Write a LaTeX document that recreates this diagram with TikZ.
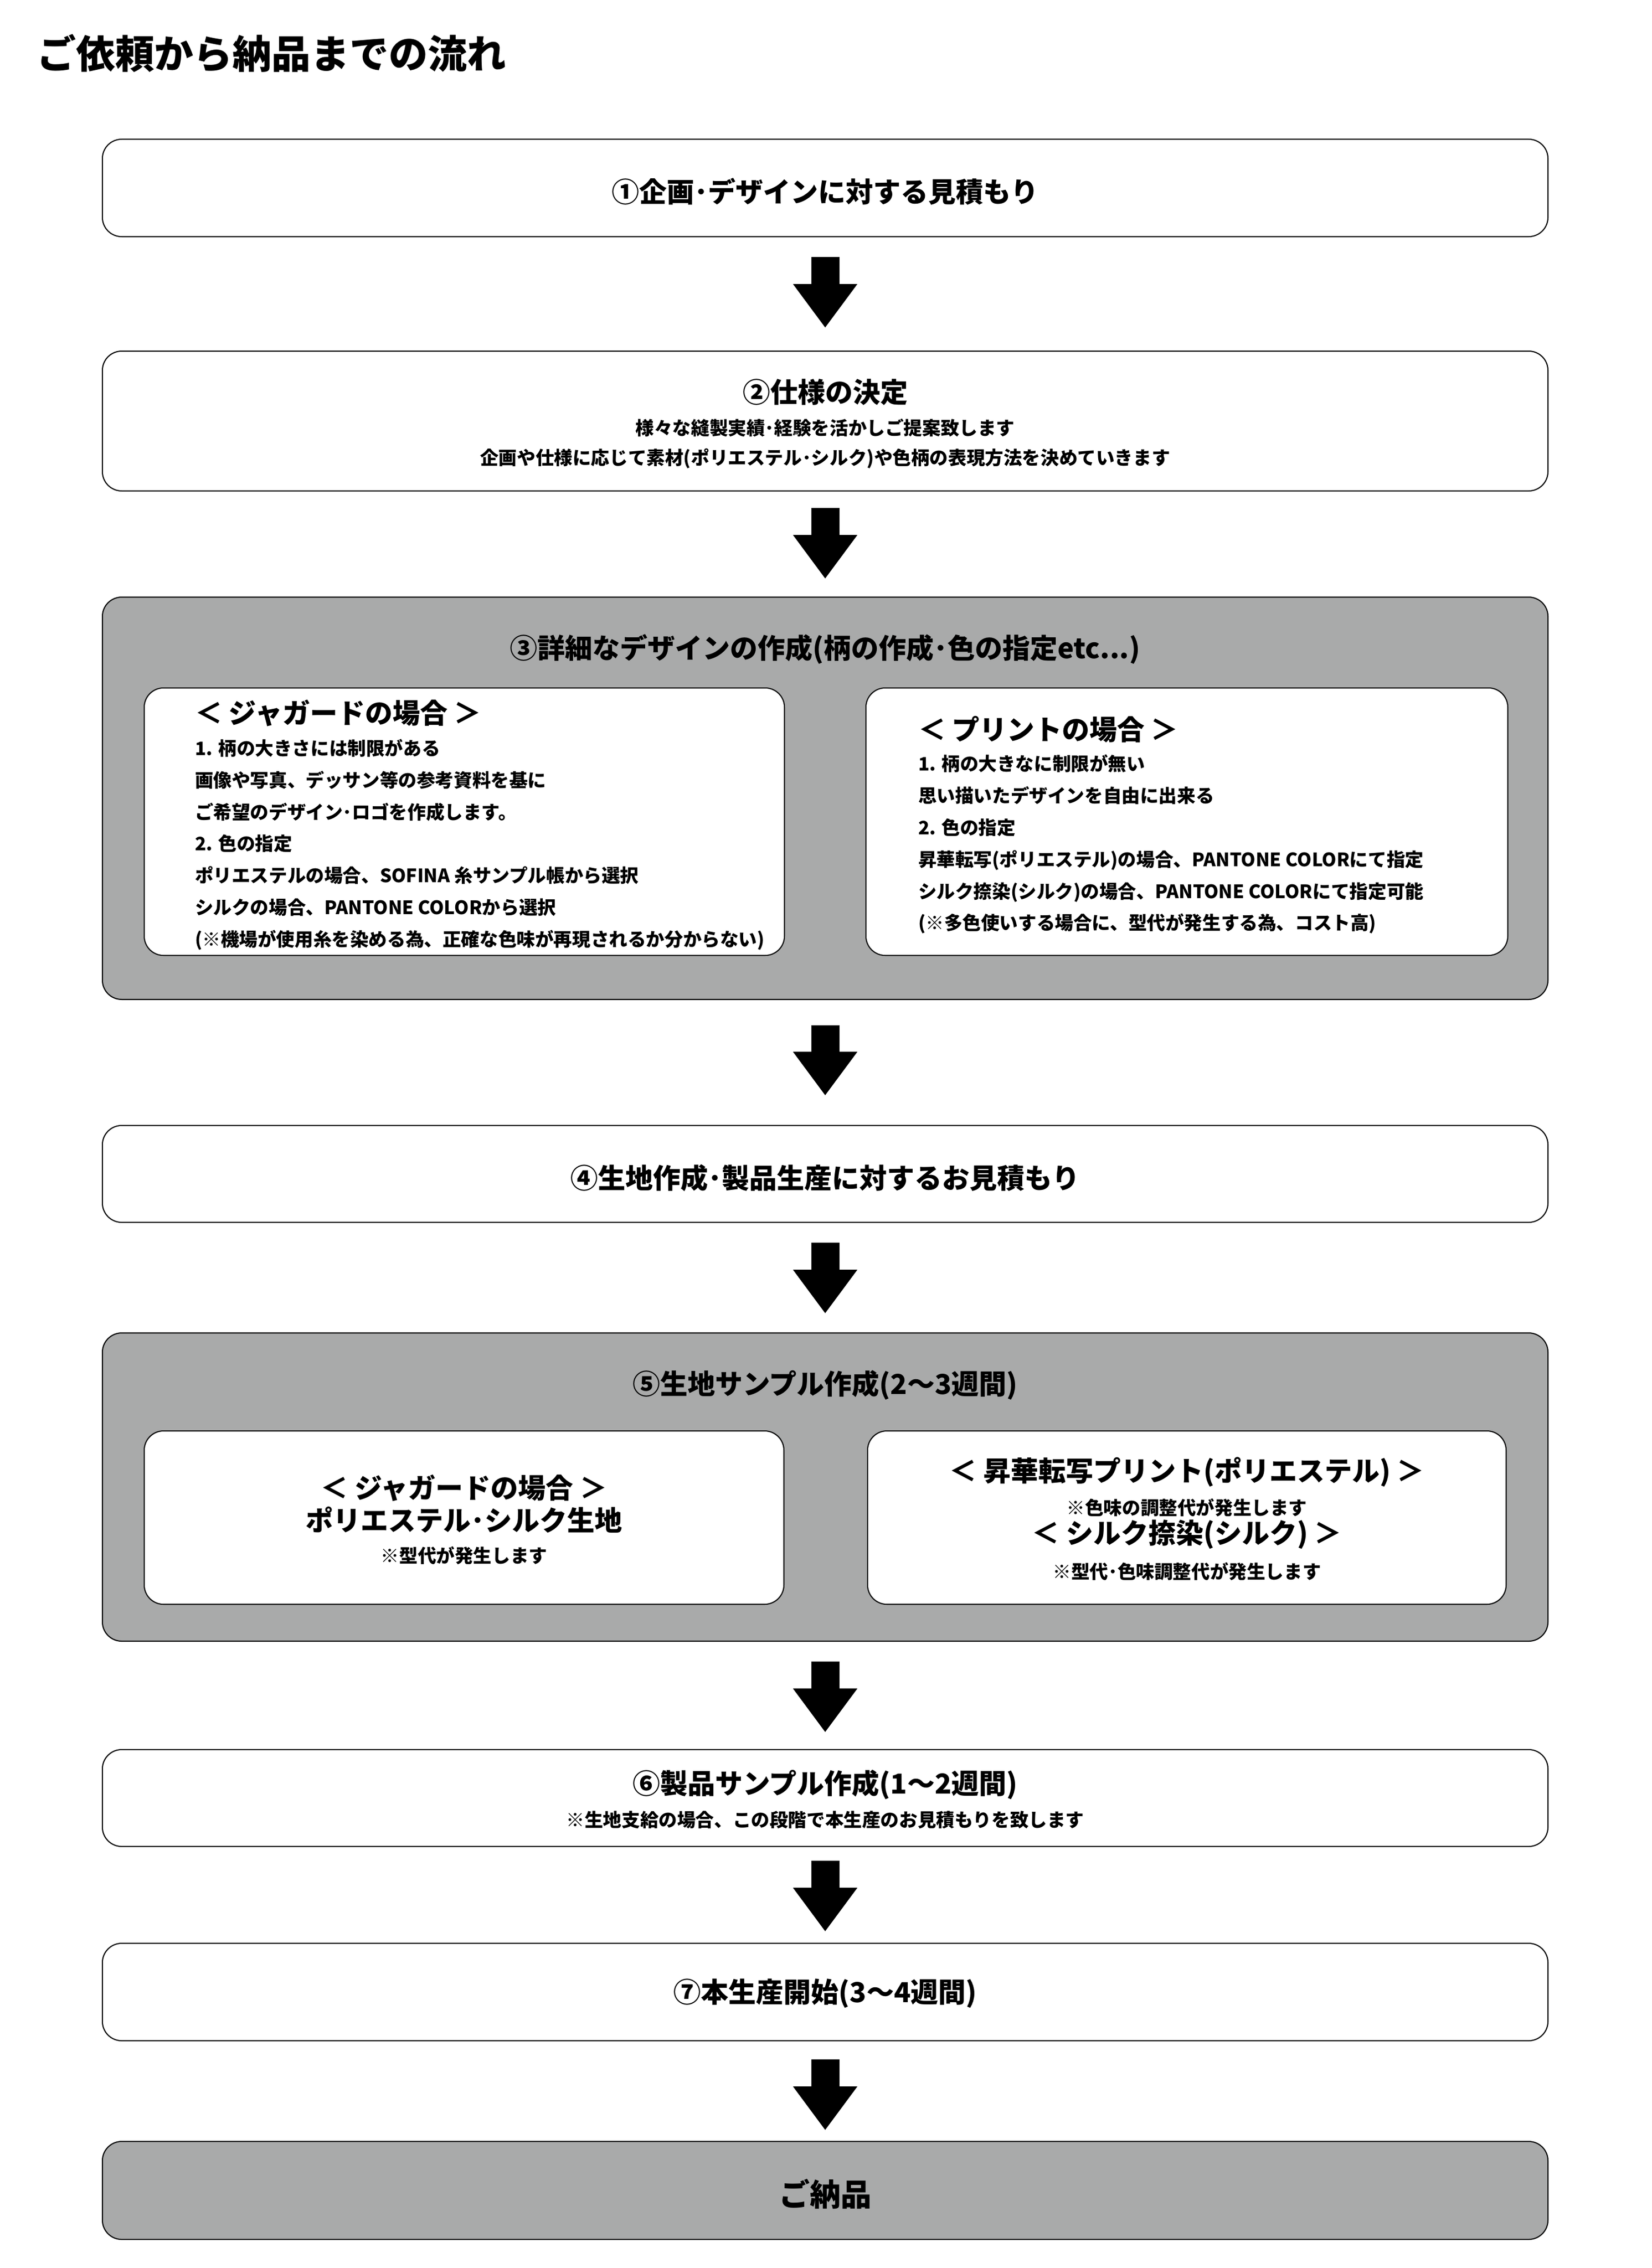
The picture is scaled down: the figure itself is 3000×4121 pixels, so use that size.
\documentclass[tikz,border=0pt]{standalone}
\usepackage{fontspec}
\setmainfont{Noto Sans CJK JP}
\usetikzlibrary{arrows.meta}
\definecolor{boxgray}{RGB}{169,170,170}
\begin{document}
\begin{tikzpicture}[x=0.25pt,y=-0.25pt,
  every node/.style={inner sep=0pt, outer sep=0pt},
  wbox/.style={rectangle, draw=black, line width=0.5pt, fill=white, rounded corners=8.75pt},
  gbox/.style={wbox, fill=boxgray},
  outer/.style={minimum width=656.5pt},
  big/.style={font=\fontsize{12.5}{15}\selectfont\bfseries},
  small/.style={font=\fontsize{8.4}{10}\selectfont\bfseries},
  body/.style={font=\fontsize{8.4}{14.45}\selectfont\bfseries, align=left, anchor=west},
  flowarrow/.style={line width=12.75pt, -{Triangle[width=29.25pt,length=19.75pt,line width=0pt]}}
]
\useasboundingbox (0,0) rectangle (3000,4121);
\fill[white] (0,0) rectangle (3000,4121);

% title
\node[anchor=west, font=\fontsize{17.75}{20}\selectfont\bfseries] (title) at (67,97) {ご依頼から納品までの流れ};

% boxes
\node[wbox, outer, minimum height=44.25pt] (b1) at (1499,341.5) {};
\node[wbox, outer, minimum height=63.5pt] (b2) at (1499,765) {};
\node[gbox, outer, minimum height=182.75pt] (b3) at (1499,1450.5) {};
\node[wbox, minimum width=290.75pt, minimum height=121.5pt] (b3l) at (843.5,1493) {};
\node[wbox, minimum width=291.5pt, minimum height=121.5pt] (b3r) at (2156,1493) {};
\node[wbox, outer, minimum height=44pt] (b4) at (1499,2133) {};
\node[gbox, outer, minimum height=140pt] (b5) at (1499,2702) {};
\node[wbox, minimum width=290.5pt, minimum height=78.75pt] (b5l) at (843,2757.5) {};
\node[wbox, minimum width=290pt, minimum height=78.75pt] (b5r) at (2156,2757.5) {};
\node[wbox, outer, minimum height=44pt] (b6) at (1499,3267) {};
\node[wbox, outer, minimum height=44.25pt] (b7) at (1499,3619.5) {};
\node[gbox, outer, minimum height=44.5pt] (b8) at (1499,3980) {};

% texts
\node[big] (t1) at (1499,348) {①企画･デザインに対する見積もり};
\node[big] (t2a) at (1499,713) {②仕様の決定};
\node[small] (t2b) at (1499,777) {様々な縫製実績･経験を活かしご提案致します};
\node[small] (t2c) at (1499,833) {企画や仕様に応じて素材(ポリエステル･シルク)や色柄の表現方法を決めていきます};

\node[big] (t3) at (1499,1180) {③詳細なデザインの作成(柄の作成･色の指定etc...)};
\node[big, anchor=west] (t3lh) at (354,1296) {＜ ジャガードの場合 ＞};
\node[body] (t3lb) at (354,1534.5) {1. 柄の大きさには制限がある\\
画像や写真、デッサン等の参考資料を基に\\
ご希望のデザイン･ロゴを作成します。\\
2. 色の指定\\
ポリエステルの場合、SOFINA 糸サンプル帳から選択\\
シルクの場合、PANTONE COLORから選択\\
(※機場が使用糸を染める為、正確な色味が再現されるか分からない)};
\node[big, anchor=west] (t3rh) at (1668,1325) {＜ プリントの場合 ＞};
\node[body] (t3rb) at (1668,1534) {1. 柄の大きなに制限が無い\\
思い描いたデザインを自由に出来る\\
2. 色の指定\\
昇華転写(ポリエステル)の場合、PANTONE COLORにて指定\\
シルク捺染(シルク)の場合、PANTONE COLORにて指定可能\\
(※多色使いする場合に、型代が発生する為、コスト高)};

\node[big] (t4) at (1499,2140) {④生地作成･製品生産に対するお見積もり};

\node[big] (t5) at (1499,2517) {⑤生地サンプル作成(2〜3週間)};
\node[big] (t5la) at (843,2704) {＜ ジャガードの場合 ＞};
\node[big] (t5lb) at (843,2762) {ポリエステル･シルク生地};
\node[small] (t5lc) at (843,2826) {※型代が発生します};
\node[big] (t5ra) at (2156,2675) {＜ 昇華転写プリント(ポリエステル) ＞};
\node[small] (t5rb) at (2156,2739) {※色味の調整代が発生します};
\node[big] (t5rc) at (2156,2788) {＜ シルク捺染(シルク) ＞};
\node[small] (t5rd) at (2156,2855) {※型代･色味調整代が発生します};

\node[big] (t6a) at (1499,3243) {⑥製品サンプル作成(1〜2週間)};
\node[small] (t6b) at (1499,3307) {※生地支給の場合、この段階で本生産のお見積もりを致します};

\node[big] (t7) at (1499,3622) {⑦本生産開始(3〜4週間)};

\node[font=\fontsize{14}{16}\selectfont\bfseries] (t8) at (1499,3987) {ご納品};

% arrows
\draw[flowarrow, shorten <=9.25pt, shorten >=10.75pt] (b1.south) -- (b2.north);
\draw[flowarrow, shorten <=7.75pt, shorten >=8.5pt] (b2.south) -- (b3.north);
\draw[flowarrow, shorten <=11.75pt, shorten >=13.75pt] (b3.south) -- (b4.north);
\draw[flowarrow, shorten <=9.25pt, shorten >=9pt] (b4.south) -- (b5.north);
\draw[flowarrow, shorten <=9.25pt, shorten >=8pt] (b5.south) -- (b6.north);
\draw[flowarrow, shorten <=6.5pt, shorten >=5.5pt] (b6.south) -- (b7.north);
\draw[flowarrow, shorten <=8.5pt, shorten >=5.25pt] (b7.south) -- (b8.north);
\end{tikzpicture}
\end{document}
